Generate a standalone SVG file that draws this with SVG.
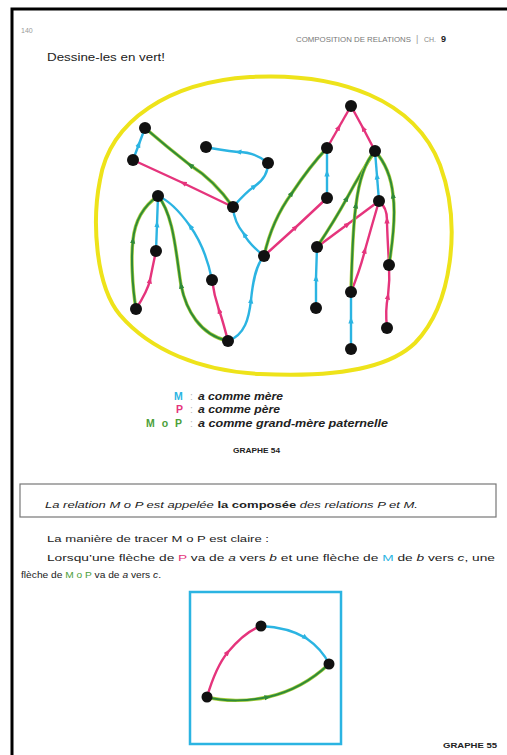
<svg xmlns="http://www.w3.org/2000/svg" width="507" height="755" viewBox="0 0 507 755">
<style>
.t{font-family:"Liberation Sans","DejaVu Sans",sans-serif;fill:#222}
.m{stroke:#2bb4e2;stroke-width:2.4;fill:none}
.p{stroke:#e5347c;stroke-width:2.4;fill:none}
.gl{stroke:#a8cf3a;stroke-width:3.4;fill:none}
.g{stroke:#2f8a38;stroke-width:2;fill:none}
.n{fill:#111}
</style>
<defs>
<marker id="am" viewBox="0 0 8 8" refX="4" refY="4" markerWidth="7" markerHeight="7" markerUnits="userSpaceOnUse" orient="auto"><path d="M0,1 L8,4 L0,7 z" fill="#2bb4e2"/></marker>
<marker id="ap" viewBox="0 0 8 8" refX="4" refY="4" markerWidth="7" markerHeight="7" markerUnits="userSpaceOnUse" orient="auto"><path d="M0,1 L8,4 L0,7 z" fill="#e5347c"/></marker>
<marker id="ag" viewBox="0 0 8 8" refX="4" refY="4" markerWidth="7" markerHeight="7" markerUnits="userSpaceOnUse" orient="auto"><path d="M0,1 L8,4 L0,7 z" fill="#2f8a38"/></marker>
</defs>
<rect width="507" height="755" fill="#fff"/>
<path d="M12,755 V9 H507" fill="none" stroke="#000" stroke-width="3"/>
<text class="t" x="21" y="33" font-size="7" style="fill:#999">140</text>
<text class="t" x="296" y="42" font-size="7.5" style="fill:#777" textLength="115" lengthAdjust="spacingAndGlyphs">COMPOSITION DE RELATIONS</text>
<text class="t" x="416" y="42" font-size="9" style="fill:#999">|</text>
<text class="t" x="424" y="42" font-size="7" style="fill:#888">CH.</text>
<text class="t" x="441" y="42" font-size="9" font-weight="bold" style="fill:#222">9</text>
<text class="t" x="47" y="61" font-size="10" textLength="118" lengthAdjust="spacingAndGlyphs">Dessine-les en vert!</text>

<path id="yellow" d="M250,77 C340,72 415,100 440,165 C462,225 452,305 415,343 C385,372 320,377 260,374 C200,371 150,350 120,315 C95,285 92,220 100,180 C110,120 170,82 250,77 Z" fill="none" stroke="#eee31a" stroke-width="4"/>

<g id="connectors">
<path class="m" marker-mid="url(#am)" d="M133,160 L139,144 L145,128"/>
<path class="p" marker-mid="url(#ap)" d="M233,207 L183,183 L133,160"/>
<path class="gl" d="M233,207 Q214,180 190,165 Q167,147 145,128"/>
<path class="g" marker-mid="url(#ag)" d="M233,207 Q214,180 190,165 Q167,147 145,128"/>
<path class="m" marker-mid="url(#am)" d="M268,163 Q255,152 238,152 Q220,150 206,147"/>
<path class="m" marker-mid="url(#am)" d="M233,207 Q246,192 255,186 Q268,177 268,163"/>
<path class="m" marker-mid="url(#am)" d="M264,256 Q248,243 244,234 Q234,222 233,207"/>
<path class="m" marker-mid="url(#am)" d="M156,251 L157,224 L158,196"/>
<path class="p" marker-mid="url(#ap)" d="M136,309 Q148,290 150,280 Q153,265 156,251"/>
<path class="gl" d="M136,309 C132,285 131,255 133,240 C135,220 145,205 158,196"/>
<path class="g" marker-mid="url(#ag)" d="M136,309 C132,285 131,255 133,240 C135,220 145,205 158,196"/>
<path class="p" marker-mid="url(#ap)" d="M228,341 Q222,318 219,310 Q214,295 212,280"/>
<path class="m" marker-mid="url(#am)" d="M212,280 C208,260 200,240 190,226 C180,212 168,200 158,196"/>
<path class="gl" d="M228,341 C200,335 186,310 181,285 C176,255 174,215 158,196"/>
<path class="g" marker-mid="url(#ag)" d="M228,341 C200,335 186,310 181,285 C176,255 174,215 158,196"/>
<path class="m" marker-mid="url(#am)" d="M228,341 C245,335 249,318 251,300 C253,280 256,265 264,256"/>
<path class="p" marker-mid="url(#ap)" d="M264,256 L296,227 L327,198"/>
<path class="gl" d="M264,256 Q272,220 292,193 Q310,166 327,148"/>
<path class="g" marker-mid="url(#ag)" d="M264,256 Q272,220 292,193 Q310,166 327,148"/>
<path class="m" marker-mid="url(#am)" d="M327,198 L327,173 L327,148"/>
<path class="p" marker-mid="url(#ap)" d="M327,148 L339,127 L351,106"/>
<path class="p" marker-mid="url(#ap)" d="M375,151 L363,128 L351,106"/>
<path class="m" marker-mid="url(#am)" d="M379,201 L377,176 L375,151"/>
<path class="p" marker-mid="url(#ap)" d="M317,247 L348,224 L379,201"/>
<path class="gl" d="M317,247 Q335,220 347,198 Q361,172 375,151"/>
<path class="g" marker-mid="url(#ag)" d="M317,247 Q335,220 347,198 Q361,172 375,151"/>
<path class="m" marker-mid="url(#am)" d="M316,308 L316,278 L317,247"/>
<path class="p" marker-mid="url(#ap)" d="M351,292 Q360,270 365,250 Q372,225 379,201"/>
<path class="gl" d="M351,292 C352,255 353,225 356,205 C359,180 365,162 375,151"/>
<path class="g" marker-mid="url(#ag)" d="M351,292 C352,255 353,225 356,205 C359,180 365,162 375,151"/>
<path class="m" marker-mid="url(#am)" d="M351,349 L351,320 L351,292"/>
<path class="p" marker-mid="url(#ap)" d="M387,328 Q385,310 388,296 Q390,280 389,265"/>
<path class="p" marker-mid="url(#ap)" d="M389,265 C388,245 387,230 387,220 C387,210 384,205 379,201"/>
<path class="gl" d="M389,265 C393,240 396,215 393,195 C391,175 383,160 375,151"/>
<path class="g" marker-mid="url(#ag)" d="M389,265 C393,240 396,215 393,195 C391,175 383,160 375,151"/>
<path class="p" marker-mid="url(#ap)" d="M207,697 C212,680 218,664 228,652 C238,640 249,630 261,626"/>
<path class="m" marker-mid="url(#am)" d="M261,626 C280,627 296,632 306,638 C316,645 324,653 329,664"/>
<path class="gl" d="M207,697 C225,702 250,701 268,697 C290,692 312,680 329,664"/>
<path class="g" marker-mid="url(#ag)" d="M207,697 C225,702 250,701 268,697 C290,692 312,680 329,664"/>
</g>

<g id="n-A"><circle class="n" cx="145" cy="128" r="6"/></g>
<g id="n-B"><circle class="n" cx="133" cy="160" r="6"/></g>
<g id="n-C"><circle class="n" cx="206" cy="147" r="6"/></g>
<g id="n-D"><circle class="n" cx="233" cy="207" r="6"/></g>
<g id="n-E"><circle class="n" cx="268" cy="163" r="6"/></g>
<g id="n-F"><circle class="n" cx="158" cy="196" r="6"/></g>
<g id="n-G"><circle class="n" cx="156" cy="251" r="6"/></g>
<g id="n-H"><circle class="n" cx="136" cy="309" r="6"/></g>
<g id="n-I"><circle class="n" cx="212" cy="280" r="6"/></g>
<g id="n-J"><circle class="n" cx="228" cy="341" r="6"/></g>
<g id="n-K"><circle class="n" cx="264" cy="256" r="6"/></g>
<g id="n-L"><circle class="n" cx="327" cy="148" r="6"/></g>
<g id="n-N"><circle class="n" cx="351" cy="106" r="6"/></g>
<g id="n-O"><circle class="n" cx="375" cy="151" r="6"/></g>
<g id="n-Q"><circle class="n" cx="327" cy="198" r="6"/></g>
<g id="n-R"><circle class="n" cx="379" cy="201" r="6"/></g>
<g id="n-S"><circle class="n" cx="317" cy="247" r="6"/></g>
<g id="n-U"><circle class="n" cx="316" cy="308" r="6"/></g>
<g id="n-T"><circle class="n" cx="351" cy="292" r="6"/></g>
<g id="n-X"><circle class="n" cx="351" cy="349" r="6"/></g>
<g id="n-V"><circle class="n" cx="389" cy="265" r="6"/></g>
<g id="n-W"><circle class="n" cx="387" cy="328" r="6"/></g>

<g id="legend" font-size="10.5">
<text class="t" x="174" y="400" font-weight="bold" style="fill:#2bb4e2">M</text>
<text class="t" x="190" y="400" style="fill:#bbb">:</text>
<text class="t" x="198" y="400" font-weight="bold" font-style="italic" textLength="85" lengthAdjust="spacingAndGlyphs">a comme mère</text>
<text class="t" x="176" y="413" font-weight="bold" style="fill:#e5347c">P</text>
<text class="t" x="190" y="413" style="fill:#bbb">:</text>
<text class="t" x="198" y="413" font-weight="bold" font-style="italic" textLength="82" lengthAdjust="spacingAndGlyphs">a comme père</text>
<text class="t" x="146" y="427" font-weight="bold" style="fill:#4ba03a" letter-spacing="2">M o P</text>
<text class="t" x="190" y="427" style="fill:#bbb">:</text>
<text class="t" x="198" y="427" font-weight="bold" font-style="italic" textLength="190" lengthAdjust="spacingAndGlyphs">a comme grand-mère paternelle</text>
<text class="t" x="233" y="453" font-size="8" font-weight="bold" textLength="47" lengthAdjust="spacingAndGlyphs">GRAPHE 54</text>
</g>

<rect x="20" y="484" width="476" height="33" fill="none" stroke="#777" stroke-width="1.2"/>
<text class="t" x="45" y="508" font-size="9.5" textLength="373" lengthAdjust="spacingAndGlyphs"><tspan font-style="italic">La relation M o P est appelée </tspan><tspan font-weight="bold">la composée</tspan><tspan font-style="italic"> des relations P et M.</tspan></text>

<text class="t" x="47" y="542" font-size="9.5" textLength="222" lengthAdjust="spacingAndGlyphs">La manière de tracer M o P est claire :</text>
<text class="t" x="47" y="561" font-size="9.5" textLength="448" lengthAdjust="spacingAndGlyphs">Lorsqu’une flèche de <tspan style="fill:#e5347c">P</tspan> va de <tspan font-style="italic">a</tspan> vers <tspan font-style="italic">b</tspan> et une flèche de <tspan style="fill:#2bb4e2">M</tspan> de <tspan font-style="italic">b</tspan> vers <tspan font-style="italic">c</tspan>, une</text>
<text class="t" x="21" y="578" font-size="9.5" textLength="140" lengthAdjust="spacingAndGlyphs">flèche de <tspan style="fill:#4ba03a">M o P</tspan> va de <tspan font-style="italic">a</tspan> vers <tspan font-style="italic">c</tspan>.</text>

<rect id="frame55" x="190" y="592" width="151" height="152" fill="none" stroke="#2bb4e2" stroke-width="2.5"/>
<g id="n-a"><circle class="n" cx="207" cy="697" r="5.5"/></g>
<g id="n-b"><circle class="n" cx="261" cy="626" r="5.5"/></g>
<g id="n-c"><circle class="n" cx="329" cy="664" r="5.5"/></g>
<text class="t" x="443" y="748" font-size="8" font-weight="bold" textLength="54" lengthAdjust="spacingAndGlyphs">GRAPHE 55</text>
</svg>
